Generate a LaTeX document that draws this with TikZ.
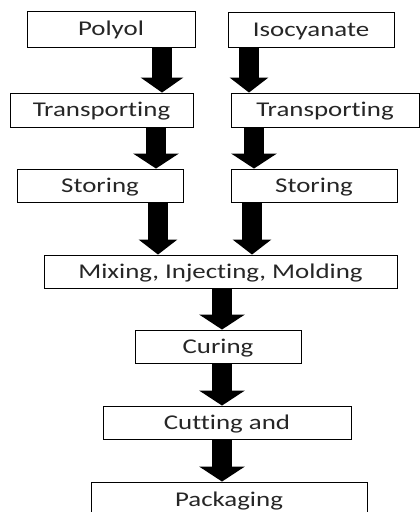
\documentclass[tikz,border=0pt]{standalone}
\usepackage{fontspec}
\setmainfont{Carlito}[FakeStretch=1.28, Ligatures={NoCommon}]
\usetikzlibrary{arrows.meta}
\tikzset{
  procbox/.style={draw=black, line width=0.9pt, inner sep=0pt, anchor=center,
    text height=13.5pt, text depth=0pt, text=black!85,
    font=\fontsize{21}{25}\selectfont},
  bigarrow/.style={draw=black, line width=20pt, -{Triangle[width=#1,length=15pt]}},
  bigarrow/.default=42pt
}
\begin{document}
\begin{tikzpicture}[x=1pt,y=-1pt]
\useasboundingbox (0,0) rectangle (420,512);
\fill[white] (0,0) rectangle (420,512);
\node[procbox, minimum width=168pt, minimum height=36pt] (polyol) at (111,29) {Polyol};
\node[procbox, minimum width=166pt, minimum height=35pt] (iso) at (311,29.5) {Isocyanate};
\node[procbox, minimum width=183pt, minimum height=34pt] (trL) at (101.5,110) {Transporting};
\node[procbox, minimum width=188pt, minimum height=34pt] (trR) at (325,110) {Transporting};
\node[procbox, minimum width=166pt, minimum height=33pt] (stL) at (100,185.5) {Storing};
\node[procbox, minimum width=166pt, minimum height=33pt] (stR) at (314,185.5) {Storing};
\node[procbox, minimum width=353pt, minimum height=33pt] (mix) at (220.5,271.5) {Mixing, Injecting, Molding};
\node[procbox, minimum width=166pt, minimum height=33pt] (cur) at (218,346.5) {Curing};
\node[procbox, minimum width=248pt, minimum height=33pt] (cut) at (227,422.5) {Cutting and};
\node[procbox, minimum width=276pt, minimum height=36pt] (pack) at (229,500) {Packaging};
\coordinate (c1) at (162,0);
\coordinate (c2) at (249,0);
\coordinate (c3) at (156,0);
\coordinate (c4) at (254,0);
\coordinate (c5) at (158,0);
\coordinate (c6) at (252,0);
\coordinate (c7) at (222,0);
\draw[bigarrow] (polyol.south -| c1) -- (trL.north -| c1);
\draw[bigarrow=38pt] (iso.south -| c2) -- (trR.north -| c2);
\draw[bigarrow=45pt] (trL.south -| c3) -- (stL.north -| c3);
\draw[bigarrow=45pt] (trR.south -| c4) -- (stR.north -| c4);
\draw[bigarrow=38pt] (stL.south -| c5) -- (mix.north -| c5);
\draw[bigarrow=38pt] (stR.south -| c6) -- (mix.north -| c6);
\draw[bigarrow=45pt] (mix.south -| c7) -- (cur.north -| c7);
\draw[bigarrow=45pt] (cur.south -| c7) -- (cut.north -| c7);
\draw[bigarrow=45pt] (cut.south -| c7) -- (pack.north -| c7);
\end{tikzpicture}
\end{document}
